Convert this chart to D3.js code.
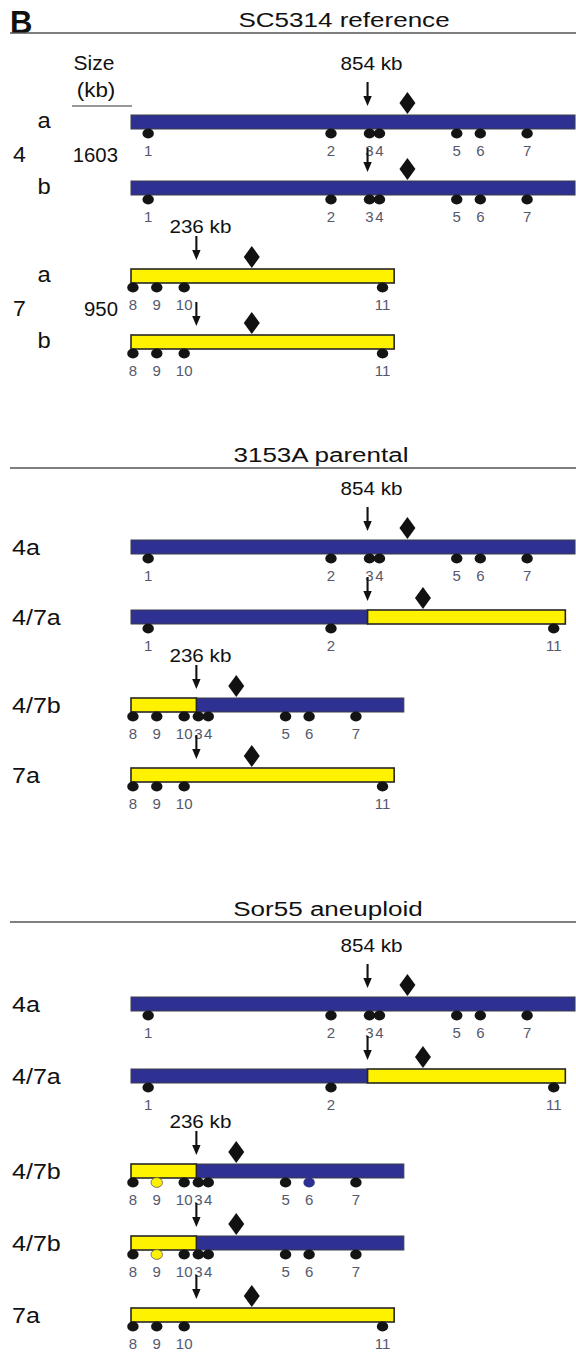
<!DOCTYPE html>
<html>
<head>
<meta charset="utf-8">
<script src="https://cdn.jsdelivr.net/npm/d3@7"></script>
<style>
  html, body { margin: 0; padding: 0; background: #ffffff; }
  svg { display: block; }
  text { font-family: "Liberation Sans", Arial, Helvetica, sans-serif; }
</style>
</head>
<body>
<svg id="fig" width="576" height="1357"></svg>
<script>
// ---- chromosome data (kb) ----
const chromosomeIds = ["4", "7"];
const chromosomeSizeKb = [1603, 950];
const breakpointKb = [854, 236];
const centromereKb = [998, 436];
const chr4MarkerNames = ["1", "2", "3", "4", "5", "6", "7"];
const chr4MarkerKb = [62, 722, 861, 897, 1176, 1261, 1430];
const chr7MarkerNames = ["8", "9", "10", "11"];
const chr7MarkerKb = [7, 93, 192, 908];

// homolog structures: segments of [chromosome, start kb, end kb]
const homologSegments = {
  "4":    [["4", 0, 1603]],
  "7":    [["7", 0, 950]],
  "4/7a": [["4", 0, 854], ["7", 236, 950]],
  "4/7b": [["7", 0, 236], ["4", 854, 1603]]
};

// ---- strains ----
const sectionTitles = ["SC5314 reference", "3153A parental", "Sor55 aneuploid"];
const sc5314Homologs = ["4", "4", "7", "7"];
const sc5314Labels = ["a", "b", "a", "b"];
const parentalHomologs = ["4", "4/7a", "4/7b", "7"];
const parentalLabels = ["4a", "4/7a", "4/7b", "7a"];
const sor55Homologs = ["4", "4/7a", "4/7b", "4/7b", "7"];
const sor55Labels = ["4a", "4/7a", "4/7b", "4/7b", "7a"];
// markers whose allele takes the colour of the named chromosome
const sor55MarkerAllele = [{}, {}, { "9": "7", "6": "4" }, { "9": "7" }, {}];

// ---- styles / layout ----
const chromColour = { "4": "#2e3192", "7": "#fff200" };
const markerColour = "#141414";
const markerLabelColour = "#55586c";
const inkColour = "#111111";

const sections = [
  { title: sectionTitles[0], homologs: sc5314Homologs, labels: sc5314Labels, alleles: null,
    ruleY: 33, titleX: 344, firstOffset: 82, pitch: 66, labelExtra: 22, pairedLabels: true },
  { title: sectionTitles[1], homologs: parentalHomologs, labels: parentalLabels, alleles: null,
    ruleY: 468, titleX: 321, firstOffset: 72, pitch: 70, labelExtra: 18, pairedLabels: false },
  { title: sectionTitles[2], homologs: sor55Homologs, labels: sor55Labels, alleles: sor55MarkerAllele,
    ruleY: 922, titleX: 328, firstOffset: 75, pitch: 72, labelExtra: 23, pairedLabels: false }
];

const svg = d3.select("#fig");
const x = d3.scaleLinear().domain([0, chromosomeSizeKb[0]]).range([131, 131 + chromosomeSizeKb[0] * 0.277]);
const len = kb => x(kb) - x(0);

const BAR_H = 14;

const chromInfo = {};
chromosomeIds.forEach((id, i) => {
  const names = id === "4" ? chr4MarkerNames : chr7MarkerNames;
  const kbs = id === "4" ? chr4MarkerKb : chr7MarkerKb;
  chromInfo[id] = {
    size: chromosomeSizeKb[i],
    breakpoint: breakpointKb[i],
    centromere: centromereKb[i],
    markers: names.map((n, j) => ({ name: n, kb: kbs[j] }))
  };
});

function label(g, px, py, str, size, opts = {}) {
  return g.append("text")
    .attr("transform", `translate(${px},${py}) scale(${opts.sx ?? 1},1)`)
    .attr("text-anchor", opts.anchor || "start")
    .attr("font-size", size)
    .attr("font-weight", opts.weight || "normal")
    .attr("fill", opts.fill || inkColour)
    .text(str);
}

// panel letter
label(svg, 10, 33, "B", 31, { weight: "bold" });

sections.forEach((sec, si) => {
  const g = svg.append("g");

  // title and rule
  g.append("line")
    .attr("x1", 10).attr("x2", 576)
    .attr("y1", sec.ruleY).attr("y2", sec.ruleY)
    .attr("stroke", "#555").attr("stroke-width", 1.4);
  label(g, sec.titleX, sec.ruleY - 6, sec.title, 21, { anchor: "middle", sx: 1.24 });

  // row positions
  const firstChrom = sec.homologs.map(h => homologSegments[h][0][0]);
  const tops = [];
  let y = sec.ruleY + sec.firstOffset;
  sec.homologs.forEach((h, i) => {
    if (i > 0) {
      const newLabel = firstChrom.indexOf(firstChrom[i]) === i;
      y += sec.pitch + (newLabel ? sec.labelExtra : 0);
    }
    tops.push(y);
  });

  sec.homologs.forEach((h, i) => {
    const top = tops[i];
    const row = g.append("g");
    const segs = homologSegments[h];

    // segment geometry
    let cursor = x(0);
    const placed = segs.map(([chrom, from, to]) => {
      const s = { chrom, from, to, x0: cursor, x1: cursor + len(to - from) };
      cursor = s.x1;
      return s;
    });
    const posOf = (s, kb) => s.x0 + len(kb - s.from);

    // bars (chr4 first so the chr7 outline sits on top)
    const drawOrder = placed.slice().sort((a, b) => (a.chrom === "7") - (b.chrom === "7"));
    row.selectAll("rect.seg").data(drawOrder).join("rect")
      .attr("class", "seg")
      .attr("x", s => s.x0).attr("y", top)
      .attr("width", s => s.x1 - s.x0).attr("height", BAR_H)
      .attr("fill", s => chromColour[s.chrom])
      .attr("stroke", s => s.chrom === "7" ? "#262626" : "#3c3c4a")
      .attr("stroke-width", s => s.chrom === "7" ? 1.6 : 1);

    // breakpoint arrow on the leading chromosome
    const lead = placed[0];
    const ax = posOf(lead, chromInfo[lead.chrom].breakpoint);
    row.append("line")
      .attr("x1", ax).attr("x2", ax)
      .attr("y1", top - 33).attr("y2", top - 17)
      .attr("stroke", inkColour).attr("stroke-width", 2.1);
    row.append("path")
      .attr("d", `M${ax - 4.2},${top - 19} L${ax + 4.2},${top - 19} L${ax},${top - 9} Z`)
      .attr("fill", inkColour);
    if (firstChrom.indexOf(lead.chrom) === i) {
      const off = i === 0 ? 45 : 36;
      label(row, ax + 4, top - off, `${chromInfo[lead.chrom].breakpoint} kb`, 17.5,
        { anchor: "middle", sx: 1.18 });
    }

    // centromeres
    placed.forEach(s => {
      const c = chromInfo[s.chrom].centromere;
      if (c > s.from && c < s.to) {
        const cx = posOf(s, c);
        row.append("path")
          .attr("d", `M${cx},${top - 23} L${cx + 8},${top - 12} L${cx},${top - 1} L${cx - 8},${top - 12} Z`)
          .attr("fill", inkColour);
      }
    });

    // markers
    const alleleMap = (sec.alleles && sec.alleles[i]) || {};
    const marks = [];
    placed.forEach(s => {
      chromInfo[s.chrom].markers.forEach(m => {
        if (m.kb >= s.from && m.kb <= s.to) marks.push({ name: m.name, px: posOf(s, m.kb) });
      });
    });
    row.selectAll("ellipse.mk").data(marks).join("ellipse")
      .attr("class", "mk")
      .attr("cx", d => d.px).attr("cy", top + 18.5)
      .attr("rx", 5.7).attr("ry", 4.9)
      .attr("fill", d => alleleMap[d.name] ? chromColour[alleleMap[d.name]] : markerColour)
      .attr("stroke", d => alleleMap[d.name] === "7" ? "#555" : "none")
      .attr("stroke-width", 0.8);
    marks.forEach(d => {
      label(row, d.px, top + 41, d.name, 15, { anchor: "middle", fill: markerLabelColour });
    });

    // row labels
    if (sec.pairedLabels) {
      label(row, 44, top + 13, sec.labels[i], 22, { anchor: "middle", sx: 1.08 });
    } else {
      label(row, 12, top + 15, sec.labels[i], 22, { sx: 1.14 });
    }
  });

  // chromosome number and size between homolog pairs
  if (sec.pairedLabels) {
    chromosomeIds.forEach((id, ci) => {
      const idx = sec.homologs.map((h, k) => h === id ? k : -1).filter(k => k >= 0);
      if (!idx.length) return;
      const midY = d3.mean(idx, k => tops[k] + 13) + 1;
      label(g, 13, midY, id, 22, { sx: 1.05 });
      label(g, 118, midY, String(chromosomeSizeKb[ci]), 21, { anchor: "end", sx: 0.97 });
    });
    label(g, 94, 70, "Size", 20, { anchor: "middle", sx: 1.05 });
    label(g, 96, 97, "(kb)", 20, { anchor: "middle", sx: 1.12 });
    g.append("line")
      .attr("x1", 72).attr("x2", 132).attr("y1", 106).attr("y2", 106)
      .attr("stroke", "#333").attr("stroke-width", 1.2);
  }
});
</script>
</body>
</html>
